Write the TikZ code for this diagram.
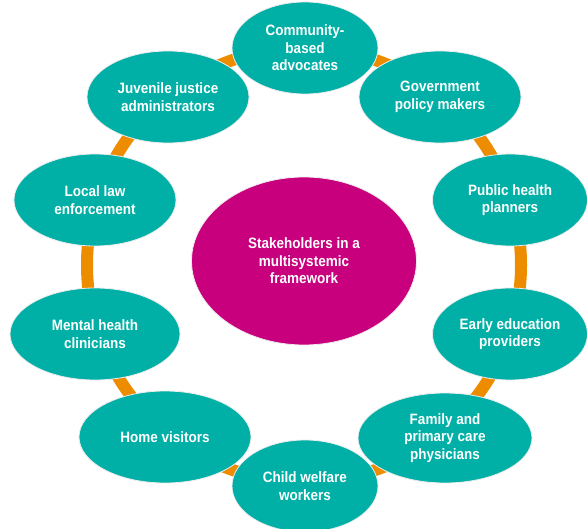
\documentclass[tikz,border=0pt]{standalone}
\usepackage{fontspec}
\setmainfont{Liberation Sans}[FakeStretch=0.9]
\usetikzlibrary{shapes.geometric}
\definecolor{teal1}{RGB}{0,176,166}
\definecolor{mag1}{RGB}{200,0,125}
\definecolor{ring1}{RGB}{238,140,0}
\tikzset{
  outer/.style={ellipse, fill=teal1, draw=white!85!gray, line width=0.8bp,
    minimum width=162bp, minimum height=92bp, inner sep=0pt,
    text=white, align=center, font=\fontsize{15bp}{17.5bp}\selectfont\bfseries},
  hub/.style={ellipse, fill=mag1, draw=white!85!gray, line width=0.8bp,
    minimum width=225bp, minimum height=168bp, inner sep=0pt,
    text=white, align=center, font=\fontsize{15bp}{17.5bp}\selectfont\bfseries},
  ringline/.style={draw=ring1, line width=12bp}
}
\begin{document}
\begin{tikzpicture}[x=1bp,y=-1bp]
\useasboundingbox (0,0) rectangle (587,529);
\coordinate (c) at (304,265);
\draw[ringline] (c) circle[radius=217];
\node[hub] (hub) at (304,261) {Stakeholders in a\\multisystemic\\framework};
\node[outer, minimum width=146bp] (comm) at (305,48) {Community-\\based\\advocates};
\node[outer] (gov) at (440,97) {Government\\policy makers};
\node[outer, minimum width=155bp] (pub) at (510,200) {Public health\\planners};
\node[outer, minimum width=155bp] (early) at (510,334) {Early education\\providers};
\node[outer, minimum width=174bp, minimum height=90bp] (fam) at (445,438) {Family and\\primary care\\physicians};
\node[outer, minimum width=146bp] (child) at (305,486) {Child welfare\\workers};
\node[outer, minimum width=172bp] (home) at (165,437) {Home visitors};
\node[outer, minimum width=170bp] (mental) at (95,334) {Mental health\\clinicians};
\node[outer] (law) at (95,200) {Local law\\enforcement};
\node[outer] (juv) at (168,97) {Juvenile justice\\administrators};
\end{tikzpicture}
\end{document}
